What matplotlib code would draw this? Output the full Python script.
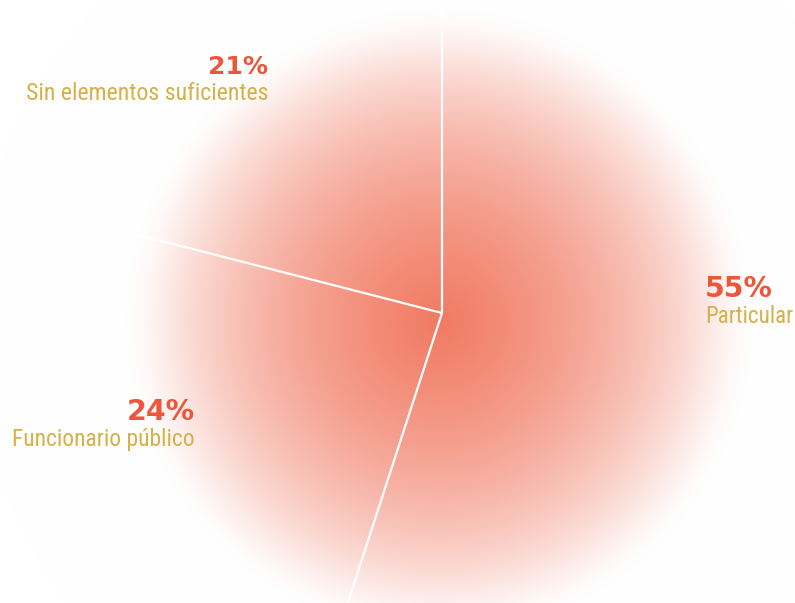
"""
Pie chart with a soft radial glow: who was responsible (Particular,
Funcionario público, Sin elementos suficientes).
"""
import numpy as np
import matplotlib
matplotlib.use("Agg")
from matplotlib import pyplot as plt
from matplotlib.colors import to_rgb

labels = ["Particular", "Funcionario público", "Sin elementos suficientes"]
shares = [55, 24, 21]
pct_text = ["55%", "24%", "21%"]

RED = "#ec563b"
GOLD = "#d6b048"
SALMON = "#f17a62"

# figure is 795x603 px, pie centre at (442, 313) px, 300 px = 1 unit
X0, X1 = -442 / 300, (795 - 442) / 300
Y0, Y1 = (313 - 603) / 300, 313 / 300

fig = plt.figure(figsize=(7.95, 6.03), dpi=100)
ax = fig.add_axes([0, 0, 1, 1])

# Pie wedges only used for their angles, the fill is the glow below
wedges, _ = ax.pie(
    shares,
    startangle=90,
    counterclock=False,
    radius=1.0,
    wedgeprops=dict(facecolor="none", edgecolor="none"),
)

# Radial glow: near linear falloff with a soft tail
xx, yy = np.meshgrid(np.linspace(X0, X1, 795), np.linspace(Y0, Y1, 603))
s = np.hypot(xx + 0.01, yy + 0.03) / 0.96
g = 1 - 0.6 * s - 0.32 * s ** 3
f = np.logaddexp(0, 25 * g) / 25
f = np.clip(f, 0, 1)
img = 1 - f[..., None] * (1 - np.array(to_rgb(SALMON)))
ax.imshow(img, extent=(X0, X1, Y0, Y1), origin="lower", zorder=0,
          aspect="equal", interpolation="bilinear")

# White separators on the wedge boundaries
angles = sorted({round(w.theta1 % 360, 3) for w in wedges})
for a in angles:
    t = np.deg2rad(a)
    ax.plot([0, 1.1 * np.cos(t)], [0, 1.1 * np.sin(t)], color="white", lw=1.6,
            solid_capstyle="butt", zorder=2)

# Labels: x, y of pct baseline, alignment, target widths in px (pct, label)
pos = [
    (0.877, 0.053, "left", 68, 88),
    (-0.823, -0.357, "right", 68, 183),
    (-0.58, 0.795, "right", 60, 243),
]
texts = []
for lab, pct, (x, y, ha, wp, wl) in zip(labels, pct_text, pos):
    tp = ax.text(x, y, pct, color=RED, fontsize=17, weight="bold", ha=ha,
                 va="baseline", family=["DejaVu Sans"])
    tl = ax.text(x, y - 0.085, lab, color=GOLD, fontsize=17, ha=ha,
                 va="baseline", family=["Roboto Condensed", "Roboto"],
                 fontstretch="condensed")
    texts += [(tp, wp), (tl, wl)]

ax.set_xlim(X0, X1)
ax.set_ylim(Y0, Y1)
ax.set_aspect("equal")
ax.set_axis_off()

# Fit each text to the width it has in the original
fig.canvas.draw()
rend = fig.canvas.get_renderer()
for t, w in texts:
    cur = t.get_window_extent(rend).width
    t.set_fontsize(t.get_fontsize() * w / cur)

plt.savefig("out.png", dpi=100)
